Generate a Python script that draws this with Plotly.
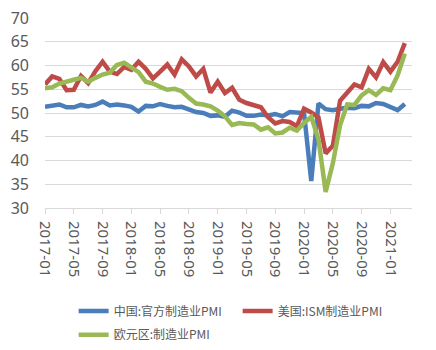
import plotly.graph_objects as go

months = [f"{y}-{m:02d}" for y in range(2017, 2022) for m in range(1, 13)][:51]

china = [51.3, 51.6, 51.8, 51.2, 51.2, 51.7, 51.4, 51.7, 52.4, 51.6, 51.8, 51.6,
         51.3, 50.3, 51.5, 51.4, 51.9, 51.5, 51.2, 51.3, 50.8, 50.2, 50.0, 49.4,
         49.5, 49.2, 50.5, 50.1, 49.4, 49.4, 49.7, 49.5, 49.8, 49.3, 50.2, 50.2,
         50.0, 35.7, 52.0, 50.8, 50.6, 50.9, 51.1, 51.0, 51.5, 51.4, 52.1, 51.9,
         51.3, 50.6, 51.9]
usa = [56.0, 57.7, 57.2, 54.8, 54.9, 57.8, 56.3, 58.8, 60.8, 58.7, 58.2, 59.7,
       59.1, 60.8, 59.3, 57.3, 58.7, 60.2, 58.1, 61.3, 59.8, 57.7, 59.3, 54.3,
       56.6, 54.2, 55.3, 52.8, 52.1, 51.7, 51.2, 49.1, 47.8, 48.3, 48.1, 47.2,
       50.9, 50.1, 49.1, 41.5, 43.1, 52.6, 54.2, 56.0, 55.4, 59.3, 57.5, 60.7,
       58.7, 60.8, 64.7]
euro = [55.2, 55.4, 56.2, 56.7, 57.0, 57.4, 56.6, 57.4, 58.1, 58.5, 60.1, 60.6,
        59.6, 58.6, 56.6, 56.2, 55.5, 54.9, 55.1, 54.6, 53.2, 52.0, 51.8, 51.4,
        50.5, 49.3, 47.5, 47.9, 47.7, 47.6, 46.5, 47.0, 45.7, 45.9, 46.9, 46.3,
        47.9, 49.2, 44.5, 33.4, 39.4, 47.4, 51.8, 51.7, 53.7, 54.8, 53.8, 55.2,
        54.8, 57.9, 62.5]

names = ["中国:官方制造业PMI", "美国:ISM制造业PMI", "欧元区:制造业PMI"]
colors = ["#4A7EBB", "#BE4B48", "#98B954"]
legends = ["legend", "legend", "legend2"]
tick_labels = months[::4]

fig = go.Figure()
for name, vals, c, lg in zip(names, [china, usa, euro], colors, legends):
    fig.add_trace(go.Scatter(x=months, y=vals, name=name, mode="lines",
                             line=dict(color=c, width=4.5), legend=lg))

leg_common = dict(orientation="h", xanchor="left", yanchor="top", yref="container",
                  entrywidth=119, entrywidthmode="pixels",
                  font=dict(family="Noto Sans CJK SC", size=12, color="#595959"),
                  tracegroupgap=0, itemwidth=30, bgcolor="rgba(0,0,0,0)")
fig.update_layout(
    width=436, height=350,
    margin=dict(l=45, r=24, t=18, b=142, autoexpand=False),
    paper_bgcolor="white", plot_bgcolor="white",
    font=dict(family="Noto Sans CJK SC", color="#595959"),
    showlegend=True,
    legend=dict(x=0.078, y=0.153, **leg_common),
    legend2=dict(x=0.078, y=0.085, **leg_common),
)
fig.update_xaxes(type="category", categoryorder="array", categoryarray=months,
                 range=[0, 51], tickmode="array", tickvals=tick_labels, ticktext=tick_labels,
                 tickangle=90, tickfont=dict(family="Noto Sans", size=15, color="#595959"),
                 showgrid=False, showline=True, linecolor="#D9D9D9", linewidth=1,
                 ticks="outside", ticklen=5, tickcolor="#D9D9D9", zeroline=False,
                 ticklabelstandoff=4)
fig.update_yaxes(range=[30, 70], tickvals=list(range(30, 71, 5)),
                 tickfont=dict(family="Noto Sans", size=16, color="#595959"),
                 showgrid=True, gridcolor="#D9D9D9", gridwidth=1, zeroline=False,
                 showline=False, ticks="", ticklabelstandoff=15)

fig.write_html("out.html")
